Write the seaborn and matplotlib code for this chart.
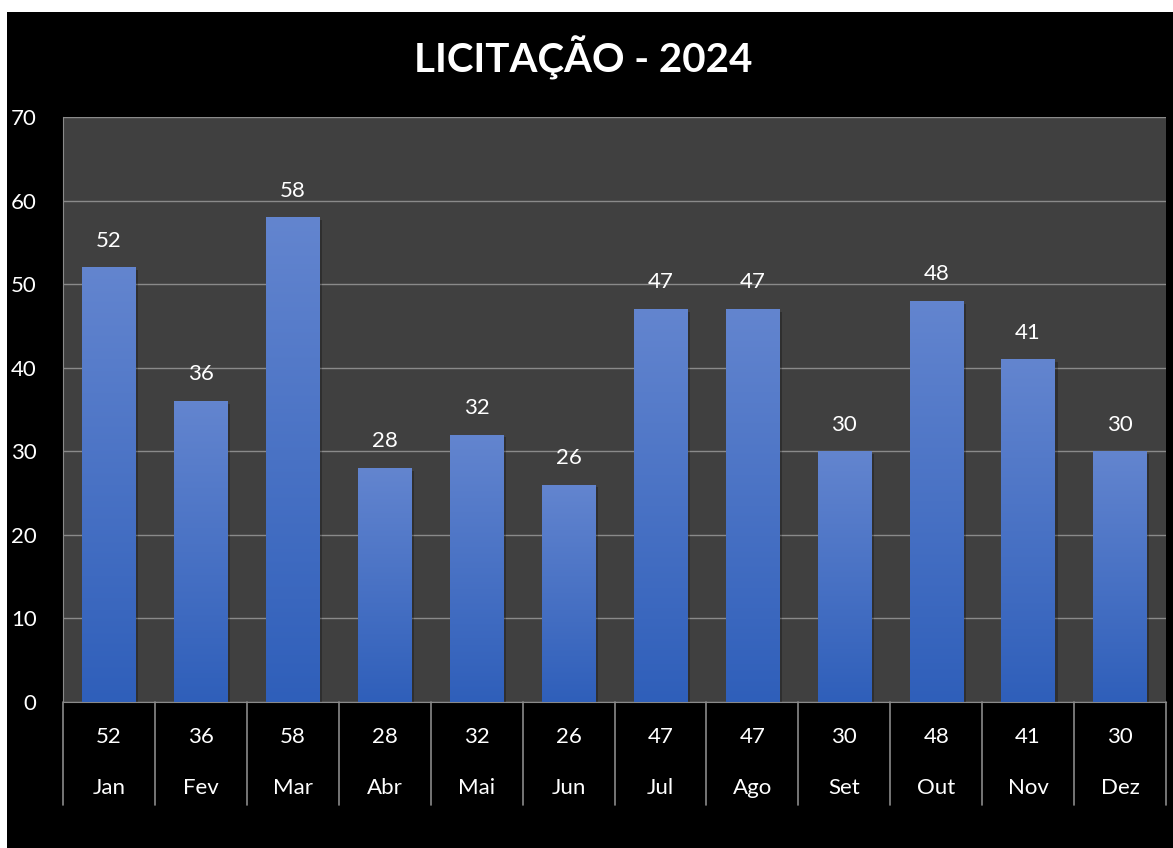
import numpy as np
import pandas as pd
import matplotlib
matplotlib.use("Agg")
import matplotlib.pyplot as plt
import matplotlib.patheffects as pe
from matplotlib.patches import Rectangle
from matplotlib.colors import LinearSegmentedColormap
import matplotlib.transforms as mtransforms
import seaborn as sns

# data
meses = ["Jan", "Fev", "Mar", "Abr", "Mai", "Jun", "Jul", "Ago", "Set", "Out", "Nov", "Dez"]
valores = [52, 36, 58, 28, 32, 26, 47, 47, 30, 48, 41, 30]
titulo = "LICITAÇÃO - 2024"

df = pd.DataFrame({"mes": meses, "valor": valores})

sns.set_style("dark")
plt.rcParams['font.family'] = ['Lato', 'DejaVu Sans']

fig = plt.figure(figsize=(11.73, 8.48), dpi=100, facecolor="white")
# black chart area with small white margin top/left (like the screenshot)
fig.patches.append(Rectangle((7 / 1173, 0), 1, 1 - 12 / 848, transform=fig.transFigure,
                             facecolor="black", edgecolor="none", zorder=-10))

ax = fig.add_axes([63 / 1173, 1 - 702 / 848, (1166 - 63) / 1173, (702 - 117) / 848])
ax.set_facecolor("#404040")

sns.barplot(data=df, x="mes", y="valor", color="#4a74c8", width=0.58, ax=ax, zorder=3)

# gradient fill + soft shadow
cmap = LinearSegmentedColormap.from_list("grad", ["#2f5fba", "#6385cf"])
grad = np.linspace(0, 1, 256).reshape(-1, 1)
for p in ax.patches:
    p.set_edgecolor("none")
    p.set_path_effects([pe.SimplePatchShadow(offset=(2, -2), shadow_rgbFace="black", alpha=0.25),
                        pe.Normal()])
    x0, y0 = p.get_x(), p.get_y()
    w, h = p.get_width(), p.get_height()
    im = ax.imshow(grad, cmap=cmap, origin="lower", aspect="auto",
                   extent=[x0, x0 + w, y0, y0 + h], zorder=4)
    im.set_clip_path(p)
    ax.text(x0 + w / 2, y0 + h + 2.0, f"{int(h)}", ha="center", va="bottom",
            color="white", fontsize=16, zorder=5)

ax.set_xlim(-0.5, len(meses) - 0.5)
ax.set_ylim(0, 70)
ax.set_yticks(range(0, 71, 10))
ax.yaxis.grid(True, color="#8a8a8a", linewidth=1)
ax.xaxis.grid(False)
ax.set_axisbelow(True)
ax.tick_params(axis="y", length=0, pad=19, labelcolor="white", labelsize=16)
ax.tick_params(axis="x", length=0, labelbottom=False)
ax.set_xlabel("")
ax.set_ylabel("")
for s in ["top", "right"]:
    ax.spines[s].set_visible(False)
ax.spines["left"].set_color("#8a8a8a")
ax.spines["bottom"].set_color("#8a8a8a")

# data table below the axis
trans = mtransforms.blended_transform_factory(ax.transData, ax.transAxes)
row1 = -(737 - 702) / 585
row2 = -(788 - 702) / 585
bottom = -(805 - 702) / 585
for i, (m, v) in enumerate(zip(meses, valores)):
    ax.text(i, row1, str(v), transform=trans, ha="center", va="center", color="white", fontsize=16)
    ax.text(i, row2, m, transform=trans, ha="center", va="center", color="white", fontsize=16)
for b in np.arange(-0.5, len(meses), 1.0):
    ax.plot([b, b], [0, bottom], transform=trans, color="#8a8a8a", linewidth=1.2, clip_on=False)

fig.text(583 / 1173, 1 - 58 / 848, titulo, ha="center", va="center", color="white",
         fontsize=29, fontweight="bold")

fig.savefig("out.png", dpi=100, facecolor=fig.get_facecolor())
